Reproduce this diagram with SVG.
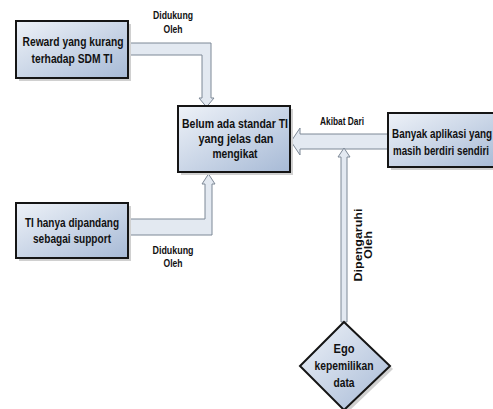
<svg xmlns="http://www.w3.org/2000/svg" width="493" height="409" viewBox="0 0 493 409">
<style>
.box{fill:url(#g);stroke:#151515;stroke-width:2}
.sh{fill:#d0d0d0}
.con{fill:#e3e9f1;stroke:#7d8896;stroke-width:1}
.t{font-family:"Liberation Sans",Arial,sans-serif;font-weight:bold;font-size:13px;fill:#111;text-anchor:middle}
.l{font-family:"Liberation Sans",Arial,sans-serif;font-weight:bold;font-size:10px;fill:#111;text-anchor:middle}
.lr{font-family:"Liberation Sans",Arial,sans-serif;font-weight:bold;font-size:10px;fill:#111;text-anchor:middle}
</style>
<defs>
<linearGradient id="g" x1="0" y1="0" x2="1" y2="1">
<stop offset="0" stop-color="#eef2f8"/>
<stop offset="1" stop-color="#a7bad6"/>
</linearGradient>
</defs>
<rect width="493" height="409" fill="#fff"/>
<g id="connectors">
<polygon class="con" points="128,43 211,43 211,98 214,98 206.5,107 199,98 202,98 202,55 128,55"/>
<polygon class="con" points="128,219 205,219 205,184 202,184 208.5,174 215,184 212,184 212,235 128,235"/>
<polygon class="con" points="388,134 300,134 300,128 291,141.5 300,155 300,149 388,149"/>
<polygon class="con" points="341,322 341,157 338,157 344,148 350,157 347,157 347,322"/>
<text class="l" x="173" y="19" textLength="40" lengthAdjust="spacingAndGlyphs">Didukung</text>
<text class="l" x="173" y="33" textLength="19" lengthAdjust="spacingAndGlyphs">Oleh</text>
<text class="l" x="173" y="254" textLength="41" lengthAdjust="spacingAndGlyphs">Didukung</text>
<text class="l" x="173" y="267" textLength="19" lengthAdjust="spacingAndGlyphs">Oleh</text>
<text class="l" x="342" y="125" textLength="44" lengthAdjust="spacingAndGlyphs">Akibat Dari</text>
<g transform="translate(362,245) rotate(-90)">
<text class="lr" x="0" y="0" textLength="73" lengthAdjust="spacingAndGlyphs">Dipengaruhi</text>
<text class="lr" x="0" y="10" textLength="28" lengthAdjust="spacingAndGlyphs">Oleh</text>
</g>
</g>
<g id="reward">
<rect class="sh" x="19" y="24" width="112" height="57"/>
<rect class="box" x="16" y="21" width="112" height="57"/>
<text class="t" x="73" y="46" textLength="101" lengthAdjust="spacingAndGlyphs">Reward yang kurang</text>
<text class="t" x="72" y="63" textLength="81" lengthAdjust="spacingAndGlyphs">terhadap SDM TI</text>
</g>
<g id="belum">
<rect class="sh" x="181" y="109" width="112" height="66"/>
<rect class="box" x="178" y="106" width="112" height="66"/>
<text class="t" x="235" y="128" textLength="106" lengthAdjust="spacingAndGlyphs">Belum ada standar TI</text>
<text class="t" x="236" y="143" textLength="75" lengthAdjust="spacingAndGlyphs">yang jelas dan</text>
<text class="t" x="235" y="158" textLength="45" lengthAdjust="spacingAndGlyphs">mengikat</text>
</g>
<g id="banyak">
<rect class="sh" x="391" y="116" width="110" height="54"/>
<rect class="box" x="388" y="113" width="110" height="54"/>
<text class="t" x="442" y="138" textLength="100" lengthAdjust="spacingAndGlyphs">Banyak aplikasi yang</text>
<text class="t" x="441" y="155" textLength="96" lengthAdjust="spacingAndGlyphs">masih berdiri sendiri</text>
</g>
<g id="tihanya">
<rect class="sh" x="19" y="206" width="112" height="55"/>
<rect class="box" x="16" y="203" width="112" height="55"/>
<text class="t" x="72" y="227" textLength="94" lengthAdjust="spacingAndGlyphs">TI hanya dipandang</text>
<text class="t" x="72" y="243" textLength="78" lengthAdjust="spacingAndGlyphs">sebagai support</text>
</g>
<g id="ego">
<polygon class="sh" points="347,325 393,369 347,413 303,369"/>
<polygon class="box" points="344,322 390,366 344,410 300,366"/>
<text class="t" x="344" y="353" textLength="21" lengthAdjust="spacingAndGlyphs">Ego</text>
<text class="t" x="344" y="370" textLength="59" lengthAdjust="spacingAndGlyphs">kepemilikan</text>
<text class="t" x="344" y="387" textLength="21" lengthAdjust="spacingAndGlyphs">data</text>
</g>
</svg>
